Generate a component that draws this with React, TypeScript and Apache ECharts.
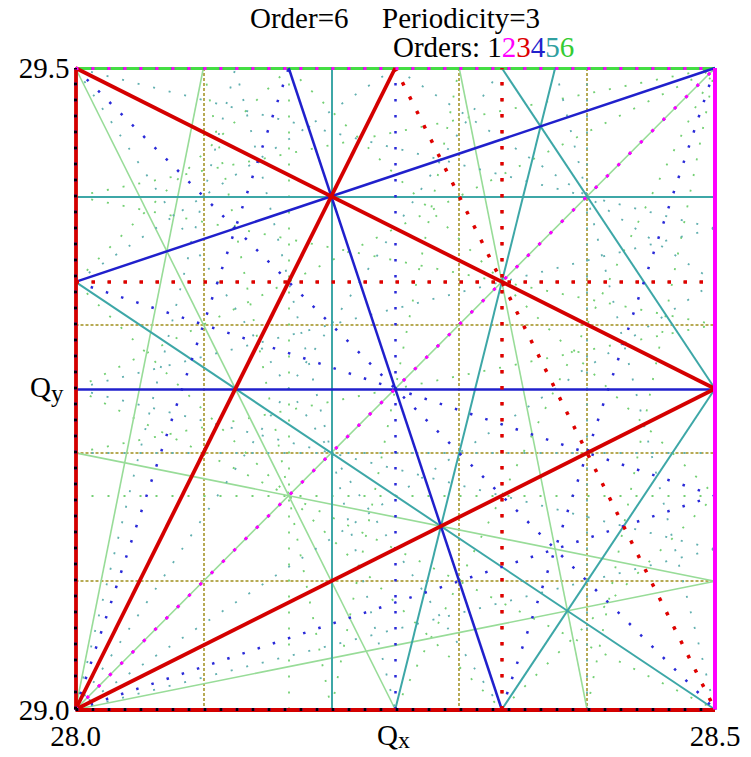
import React, { useEffect, useRef } from "react";
import * as echarts from "echarts";

const FONT = "Liberation Serif, Times New Roman, serif";

// axis ranges and tick labels
const xRange = [28.0, 28.5];
const yRange = [29.0, 29.5];
const gridStep = 0.1;
const xTickLabels = ["28.0", "28.5"];
const yTickLabels = ["29.0", "29.5"];
const orderDigits = ["1", "2", "3", "4", "5", "6"];
const orderColors = ["#000000", "#ff00ff", "#dd0000", "#2222cc", "#30a0a0", "#33cc33"];

// resonance lines, each [Qx1, Qy1, Qx2, Qy2]
const order1Dotted = [
  [28, 29, 28, 29.5],
  [28, 29, 28.5, 29],
];
const order2Solid = [[28.5, 29, 28.5, 29.5]];
const order2Dotted = [
  [28, 29.5, 28.5, 29.5],
  [28, 29, 28.5, 29.5],
  [28, 29, 28, 29.5],
  [28, 29, 28.5, 29],
];
const order3Solid = [
  [28, 29, 28, 29.5],
  [28, 29, 28.5, 29],
  [28, 29.5, 28.5, 29.25],
  [28, 29, 28.5, 29.25],
  [28, 29, 28.25, 29.5],
];
const order3Dotted = [
  [28.3333, 29, 28.3333, 29.5],
  [28, 29.3333, 28.5, 29.3333],
  [28.25, 29.5, 28.5, 29],
];
const order4Solid = [
  [28, 29.25, 28.5, 29.25],
  [28.1667, 29.5, 28.3333, 29],
  [28, 29.3333, 28.5, 29.5],
  [28.5, 29, 28.5, 29.5],
];
const order4Dotted = [
  [28.25, 29, 28.25, 29.5],
  [28, 29, 28, 29.5],
  [28, 29, 28.5, 29],
  [28, 29.5, 28.5, 29.5],
  [28, 29, 28.1667, 29.5],
  [28.3333, 29, 28.5, 29.5],
  [28, 29.3333, 28.5, 29.1667],
  [28, 29, 28.5, 29.1667],
  [28, 29.5, 28.5, 29],
  [28, 29, 28.5, 29.5],
];
const order5Solid = [
  [28.2, 29, 28.2, 29.5],
  [28, 29.4, 28.5, 29.4],
  [28.25, 29, 28.375, 29.5],
  [28, 29.3333, 28.5, 29],
  [28.3333, 29.5, 28.5, 29.25],
  [28.3333, 29, 28.5, 29.25],
];
const order5Dotted = [
  [28.4, 29, 28.4, 29.5],
  [28, 29.2, 28.5, 29.2],
  [28, 29, 28, 29.5],
  [28, 29, 28.5, 29],
  [28.125, 29.5, 28.25, 29],
  [28.375, 29.5, 28.5, 29],
  [28, 29, 28.125, 29.5],
  [28, 29.25, 28.5, 29.125],
  [28, 29.5, 28.5, 29.375],
  [28, 29, 28.5, 29.125],
  [28, 29.25, 28.5, 29.375],
  [28.25, 29.5, 28.5, 29.3333],
  [28, 29, 28.5, 29.3333],
  [28, 29.3333, 28.25, 29.5],
  [28, 29.5, 28.3333, 29],
  [28, 29, 28.3333, 29.5],
];
const order6Edge = [[28, 29.5, 28.5, 29.5]];
const order6Solid = [
  [28.3, 29.5, 28.4, 29],
  [28, 29, 28.1, 29.5],
  [28, 29.2, 28.5, 29.1],
  [28, 29, 28.5, 29.1],
  [28, 29.5, 28.25, 29],
  [28, 29, 28.5, 29.5],
];
const order6Dotted = [
  [28.1667, 29, 28.1667, 29.5],
  [28.3333, 29, 28.3333, 29.5],
  [28, 29.1667, 28.5, 29.1667],
  [28, 29.3333, 28.5, 29.3333],
  [28.1, 29.5, 28.2, 29],
  [28.2, 29, 28.3, 29.5],
  [28.4, 29, 28.5, 29.5],
  [28, 29.4, 28.5, 29.3],
  [28, 29.2, 28.5, 29.3],
  [28, 29.4, 28.5, 29.5],
  [28.25, 29, 28.5, 29.5],
  [28, 29.25, 28.5, 29],
  [28, 29.25, 28.5, 29.5],
  [28, 29.3333, 28.3333, 29],
  [28.1667, 29.5, 28.5, 29.1667],
  [28.3333, 29, 28.5, 29.1667],
  [28, 29.3333, 28.1667, 29.5],
  [28.25, 29.5, 28.5, 29],
];

function seg(list: number[][], name: string, color: string, width: number, dash?: number[]) {
  return {
    type: "lines",
    name,
    coordinateSystem: "cartesian2d",
    polyline: false,
    clip: false,
    silent: true,
    effect: { show: false },
    lineStyle: {
      color,
      width,
      opacity: 1,
      curveness: 0,
      type: dash ? dash : "solid",
      cap: "butt",
    },
    data: list.map(([a, b, c, d]) => ({ coords: [[a, b], [c, d]] })),
  };
}

const tickFmt = (labels: string[]) => (v: number) => {
  const s = v.toFixed(1);
  return labels.includes(s) && Math.abs(v - parseFloat(s)) < 1e-6 ? s : "";
};

export default function App() {
  const ref = useRef<HTMLDivElement>(null);
  useEffect(() => {
    if (!ref.current) return;
    const chart = echarts.init(ref.current, undefined, { renderer: "svg" });
    const richDigits: any = { k: { fill: "#000", font: `29px ${FONT}` } };
    orderDigits.forEach((d, i) => {
      richDigits["d" + i] = { fill: orderColors[i], font: `29px ${FONT}` };
    });
    const ordersText =
      "{k|Orders: }" + orderDigits.map((d, i) => `{d${i}|${d}}`).join("");
    const option: any = {
      animation: false,
      backgroundColor: "#ffffff",
      grid: { left: 75.5, right: 36, top: 68, bottom: 47.5, containLabel: false },
      xAxis: {
        type: "value",
        min: xRange[0],
        max: xRange[1],
        interval: gridStep,
        axisLine: { show: false },
        axisTick: { show: false },
        splitLine: {
          show: true,
          lineStyle: { color: "#a08f1c", width: 1.5, type: [3, 2] },
        },
        axisLabel: {
          formatter: tickFmt(xTickLabels),
          fontFamily: FONT,
          fontSize: 29,
          lineHeight: 26,
          color: "#000",
          margin: 13,
          showMinLabel: true,
          showMaxLabel: true,
          hideOverlap: false,
        },
      },
      yAxis: {
        type: "value",
        min: yRange[0],
        max: yRange[1],
        interval: gridStep,
        axisLine: { show: false },
        axisTick: { show: false },
        splitLine: {
          show: true,
          lineStyle: { color: "#a08f1c", width: 1.5, type: [3, 2] },
        },
        axisLabel: {
          formatter: tickFmt(yTickLabels),
          fontFamily: FONT,
          fontSize: 29,
          lineHeight: 20,
          color: "#000",
          margin: 6,
          showMinLabel: true,
          showMaxLabel: true,
          hideOverlap: false,
        },
      },
      series: [
        seg(order6Dotted, "o6d", "#74d074", 1.8, [2, 14]),
        seg(order6Solid, "o6s", "#98dc98", 1.6),
        seg(order6Edge, "o6e", "#44dd44", 3),
        seg(order5Dotted, "o5d", "#62b0b0", 1.8, [2, 14]),
        seg(order5Solid, "o5s", "#3da7a7", 2),
        seg(order4Dotted, "o4d", "#2a2ad8", 2.5, [2.5, 13.5]),
        seg(order4Solid, "o4s", "#2020cc", 2.5),
        seg(order3Dotted, "o3d", "#e00000", 3.5, [3.5, 12.5]),
        seg(order3Solid, "o3s", "#d40000", 3.8),
        seg(order2Solid, "o2s", "#ff00ff", 4),
        seg(order2Dotted, "o2d", "#ff00ff", 3, [3, 13]),
        seg(order1Dotted, "o1d", "#000000", 3, [3, 13]),
      ],
      graphic: [
        {
          type: "text",
          x: 250,
          y: 18,
          silent: true,
          style: { text: "Order=6", font: `29px ${FONT}`, fill: "#000", align: "left", verticalAlign: "middle" },
        },
        {
          type: "text",
          x: 382,
          y: 18,
          silent: true,
          style: { text: "Periodicity=3", font: `29px ${FONT}`, fill: "#000", align: "left", verticalAlign: "middle" },
        },
        {
          type: "text",
          x: 393,
          y: 47,
          silent: true,
          style: { text: ordersText, rich: richDigits, font: `29px ${FONT}`, fill: "#000", align: "left", verticalAlign: "middle" },
        },
        {
          type: "text",
          x: 377,
          y: 735,
          silent: true,
          style: { text: "Q", font: `29px ${FONT}`, fill: "#000", align: "left", verticalAlign: "middle" },
        },
        {
          type: "text",
          x: 398,
          y: 740,
          silent: true,
          style: { text: "x", font: `24px ${FONT}`, fill: "#000", align: "left", verticalAlign: "middle" },
        },
        {
          type: "text",
          x: 30,
          y: 387,
          silent: true,
          style: { text: "Q", font: `29px ${FONT}`, fill: "#000", align: "left", verticalAlign: "middle" },
        },
        {
          type: "text",
          x: 51,
          y: 393,
          silent: true,
          style: { text: "y", font: `25px ${FONT}`, fill: "#000", align: "left", verticalAlign: "middle" },
        },
      ],
    };
    chart.setOption(option);
    return () => chart.dispose();
  }, []);
  return (
    <div
      ref={ref}
      style={{ position: "fixed", left: 0, top: 0, width: 751, height: 757, background: "#fff" }}
    />
  );
}
